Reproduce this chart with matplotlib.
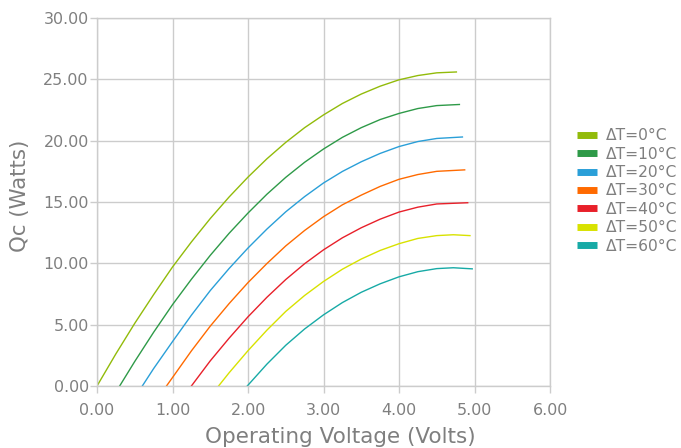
import matplotlib
matplotlib.use("Agg")
import matplotlib.pyplot as plt

# values (Volts, Watts)
labels = ["ΔT=0°C", "ΔT=10°C", "ΔT=20°C", "ΔT=30°C", "ΔT=40°C", "ΔT=50°C", "ΔT=60°C"]
colors = ["#92bb0a", "#2e9a48", "#2a9fd8", "#ff6a00", "#e8202a", "#d8e200", "#17aaa6"]

v_dt0 = [0.00, 0.25, 0.50, 0.75, 1.00, 1.25, 1.50, 1.75, 2.00, 2.25, 2.50, 2.75,
         3.00, 3.25, 3.50, 3.75, 4.00, 4.25, 4.50, 4.76]
q_dt0 = [0.00, 2.62, 5.11, 7.45, 9.70, 11.74, 13.65, 15.41, 17.03, 18.52, 19.86, 21.06,
         22.10, 23.03, 23.80, 24.44, 24.96, 25.31, 25.53, 25.60]

v_dt10 = [0.30, 0.50, 0.75, 1.00, 1.25, 1.50, 1.75, 2.00, 2.25, 2.50, 2.75,
          3.00, 3.25, 3.50, 3.75, 4.00, 4.25, 4.50, 4.80]
q_dt10 = [0.00, 2.00, 4.38, 6.63, 8.70, 10.65, 12.45, 14.10, 15.63, 17.01, 18.24,
          19.32, 20.27, 21.06, 21.72, 22.22, 22.62, 22.86, 22.95]

v_dt20 = [0.60, 0.75, 1.00, 1.25, 1.50, 1.75, 2.00, 2.25, 2.50, 2.75,
          3.00, 3.25, 3.50, 3.75, 4.00, 4.25, 4.50, 4.84]
q_dt20 = [0.00, 1.42, 3.62, 5.77, 7.78, 9.58, 11.25, 12.79, 14.20, 15.44,
          16.55, 17.49, 18.28, 18.96, 19.52, 19.93, 20.18, 20.30]

v_dt30 = [0.92, 1.00, 1.25, 1.50, 1.75, 2.00, 2.25, 2.50, 2.75,
          3.00, 3.25, 3.50, 3.75, 4.00, 4.25, 4.50, 4.87]
q_dt30 = [0.00, 0.69, 2.86, 4.88, 6.72, 8.43, 9.98, 11.42, 12.68,
          13.80, 14.77, 15.56, 16.27, 16.85, 17.24, 17.50, 17.62]

v_dt40 = [1.25, 1.50, 1.75, 2.00, 2.25, 2.50, 2.75,
          3.00, 3.25, 3.50, 3.75, 4.00, 4.25, 4.50, 4.91]
q_dt40 = [0.00, 2.05, 3.90, 5.64, 7.23, 8.68, 9.97,
          11.10, 12.08, 12.90, 13.60, 14.18, 14.58, 14.84, 14.94]

v_dt50 = [1.61, 1.75, 2.00, 2.25, 2.50, 2.75,
          3.00, 3.25, 3.50, 3.75, 4.00, 4.25, 4.50, 4.72, 4.94]
q_dt50 = [0.00, 1.08, 2.88, 4.55, 6.08, 7.38,
          8.52, 9.52, 10.35, 11.05, 11.60, 12.03, 12.26, 12.33, 12.26]

v_dt60 = [1.99, 2.25, 2.50, 2.75, 3.00, 3.25, 3.50, 3.75, 4.00, 4.25, 4.50, 4.72, 4.97]
q_dt60 = [0.00, 1.78, 3.32, 4.65, 5.80, 6.80, 7.64, 8.33, 8.90, 9.32, 9.57, 9.64, 9.55]

volts = [v_dt0, v_dt10, v_dt20, v_dt30, v_dt40, v_dt50, v_dt60]
watts = [q_dt0, q_dt10, q_dt20, q_dt30, q_dt40, q_dt50, q_dt60]

x_ticks = [0, 1, 2, 3, 4, 5, 6]
y_ticks = [0, 5, 10, 15, 20, 25, 30]

grey_text = "#7f7f7f"
grey_line = "#cccccc"

fig = plt.figure(figsize=(6.81, 4.48), dpi=100)
ax = fig.add_axes([97 / 681, 1 - 386 / 448, 453 / 681, 368 / 448])

for v, q, c, lab in zip(volts, watts, colors, labels):
    ax.plot(v, q, color=c, lw=1.0, label=lab)

ax.set_xlim(0, 6)
ax.set_ylim(0, 30)
ax.set_xticks(x_ticks)
ax.set_yticks(y_ticks)
ax.set_xticklabels([f"{t:.2f}" for t in x_ticks])
ax.set_yticklabels([f"{t:.2f}" for t in y_ticks])
ax.grid(True, color=grey_line, lw=1)
ax.set_axisbelow(True)
for s in ax.spines.values():
    s.set_color(grey_line)
    s.set_linewidth(1)
ax.tick_params(colors=grey_line, labelcolor=grey_text, labelsize=11.4, length=5, width=1)
ax.tick_params(axis="x", pad=7.5)
ax.tick_params(axis="y", pad=1)

ax.set_xlabel("Operating Voltage (Volts)", color=grey_text, fontsize=15.5)
ax.set_ylabel("Qc (Watts)", color=grey_text, fontsize=15.3)
ax.xaxis.set_label_coords((340 - 97) / 453, -(437 - 386) / 368)
ax.yaxis.set_label_coords(-(97 - 20) / 453, (386 - 196) / 368)
ax.xaxis.label.set_va("center")
ax.yaxis.label.set_va("center")

leg = fig.legend(*ax.get_legend_handles_labels(), loc="center left",
                 bbox_to_anchor=(571 / 681, 1 - 191 / 448), frameon=False,
                 borderaxespad=0, fontsize=11.2, handlelength=1.3,
                 handletextpad=0.55, labelspacing=0.22)
for h in leg.get_lines():
    h.set_linewidth(5)
    h.set_solid_capstyle("butt")
for t in leg.get_texts():
    t.set_color(grey_text)

fig.savefig("out.png", dpi=100)
